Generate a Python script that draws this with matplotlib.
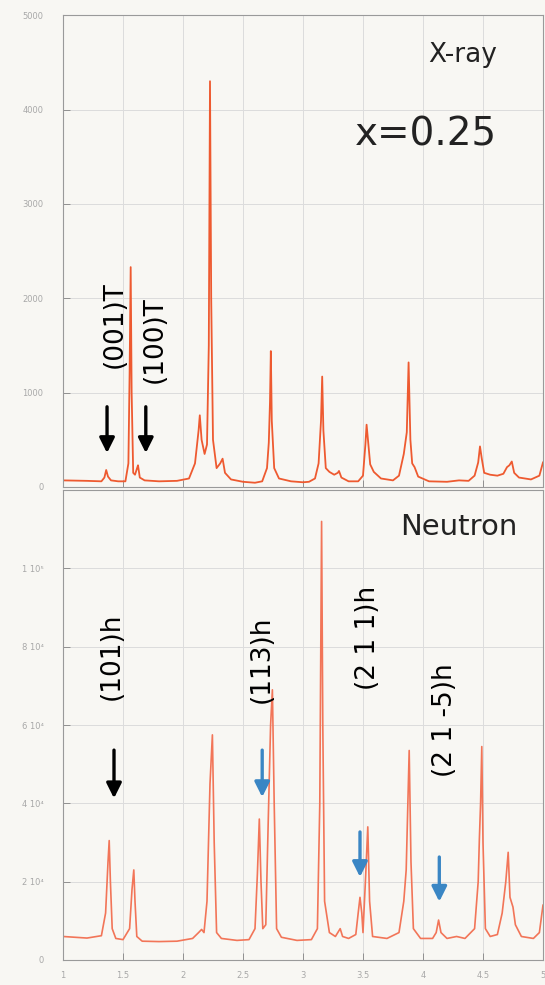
import matplotlib
matplotlib.use("Agg")
import matplotlib.pyplot as plt

plt.rcParams['font.family'] = ['DejaVu Sans']

# === DATA ====================================================================
# X-ray profile, intensity in counts
xray_x = [1.00, 1.20, 1.32, 1.345, 1.36, 1.375, 1.40, 1.46, 1.52, 1.545, 1.555,
          1.564, 1.572, 1.585, 1.60, 1.615, 1.625, 1.64, 1.68, 1.80, 1.95, 2.05,
          2.10, 2.13, 2.14, 2.155, 2.18, 2.20, 2.215, 2.225, 2.235, 2.25, 2.28,
          2.31, 2.33, 2.35, 2.40, 2.50, 2.60, 2.66, 2.70, 2.715, 2.725, 2.732,
          2.74, 2.76, 2.80, 2.90, 3.00, 3.05, 3.10, 3.13, 3.15, 3.16, 3.17, 3.19,
          3.22, 3.26, 3.29, 3.30, 3.32, 3.38, 3.46, 3.50, 3.52, 3.53, 3.545,
          3.56, 3.59, 3.65, 3.75, 3.80, 3.84, 3.865, 3.88, 3.895, 3.91, 3.93,
          3.96, 4.05, 4.20, 4.30, 4.38, 4.43, 4.46, 4.475, 4.49, 4.51, 4.56,
          4.62, 4.67, 4.70, 4.72, 4.74, 4.76, 4.80, 4.90, 4.97, 5.00]
xray_y = [70, 65, 60, 100, 180, 110, 70, 60, 60, 250, 1200,
          2330, 1000, 150, 130, 190, 230, 100, 70, 60, 65, 90,
          250, 600, 760, 500, 350, 450, 1500, 4300, 2000, 500, 200,
          250, 300, 150, 80, 55, 45, 60, 200, 470, 900, 1440,
          700, 200, 90, 60, 50, 55, 90, 250, 700, 1170, 600, 200,
          160, 130, 150, 170, 100, 60, 60, 120, 450, 660, 450,
          240, 160, 90, 70, 120, 350, 580, 1320, 500, 250, 210,
          110, 60, 55, 70, 65, 120, 260, 430, 300, 150, 130,
          120, 140, 210, 230, 270, 150, 100, 80, 120, 260]

# Neutron profile, intensity in counts
neut_x = [1.00, 1.20, 1.32, 1.355, 1.375, 1.385, 1.395, 1.41, 1.44, 1.50, 1.555,
          1.575, 1.59, 1.60, 1.615, 1.66, 1.80, 1.95, 2.08, 2.13, 2.155, 2.175,
          2.20, 2.225, 2.245, 2.26, 2.28, 2.32, 2.45, 2.55, 2.60, 2.62, 2.636,
          2.65, 2.665, 2.69, 2.71, 2.73, 2.745, 2.76, 2.78, 2.82, 2.95, 3.07,
          3.12, 3.14, 3.155, 3.165, 3.18, 3.22, 3.27, 3.30, 3.31, 3.33, 3.38,
          3.44, 3.46, 3.475, 3.49, 3.50, 3.52, 3.54, 3.555, 3.58, 3.70, 3.80,
          3.84, 3.86, 3.885, 3.90, 3.92, 3.98, 4.08, 4.11, 4.13, 4.15, 4.20,
          4.28, 4.35, 4.43, 4.46, 4.47, 4.48, 4.49, 4.50, 4.52, 4.56, 4.62,
          4.66, 4.69, 4.71, 4.725, 4.75, 4.77, 4.82, 4.92, 4.97, 5.00]
neut_y = [6000, 5600, 6200, 12000, 25000, 30500, 20000, 8000, 5500, 5200, 8000,
          18000, 23000, 15000, 6000, 4800, 4700, 4800, 5500, 7000, 7800, 7000,
          15000, 45000, 57500, 30000, 7000, 5500, 5000, 5200, 8000, 22000, 36000,
          20000, 8000, 9000, 35000, 60000, 69000, 40000, 8000, 5800, 5000, 5200,
          8000, 40000, 112000, 60000, 15000, 7000, 6000, 7500, 8000, 6000, 5500,
          6500, 12000, 16000, 12000, 7000, 20000, 34000, 15000, 6000, 5500, 7000,
          15000, 23000, 53500, 25000, 8000, 5500, 5500, 7000, 10200, 7000, 5500,
          6000, 5500, 8000, 20000, 31000, 40000, 54500, 30000, 8000, 6000, 6500,
          12000, 20000, 27500, 16000, 13500, 9000, 6000, 5500, 7000, 14000]

x_ticks = [1, 1.5, 2, 2.5, 3, 3.5, 4, 4.5, 5]
x_ticklabels = ["1", "1.5", "2", "2.5", "3", "3.5", "4", "4.5", "5"]
xray_ticks = [0, 1000, 2000, 3000, 4000, 5000]
xray_ticklabels = ["0", "1000", "2000", "3000", "4000", "5000"]
neut_ticks = [0, 20000, 40000, 60000, 80000, 100000]
neut_ticklabels = ["0", "2 10\u2074", "4 10\u2074", "6 10\u2074", "8 10\u2074", "1 10\u2075"]

# (label, x, y) for rotated peak labels
xray_labels = [("(001)T", 1.43, 1720), ("(100)T", 1.767, 1564)]
neut_labels = [("(101)h", 1.41, 77500), ("(113)h", 2.66, 76800),
               ("(2 1 1)h", 3.54, 82300), ("(2 1 -5)h", 4.18, 61200)]

# arrows: (x, y_tail, y_head, colour)
xray_arrows = [(1.367, 850, 360, "black"), (1.69, 850, 360, "black")]
neut_arrows = [(1.425, 53600, 41300, "black"), (2.66, 53600, 41600, "#3a86c4"),
               (3.475, 32700, 21200, "#3a86c4"), (4.136, 26300, 14900, "#3a86c4")]

# === FIGURE ==================================================================
bg = "#f8f7f3"
fig = plt.figure(figsize=(5.45, 9.85), dpi=100, facecolor=bg)
ax1 = fig.add_axes([0.1156, 0.5056, 0.8807, 0.479])
ax2 = fig.add_axes([0.1156, 0.0254, 0.8807, 0.477])

for ax in (ax1, ax2):
    ax.set_facecolor(bg)
    ax.set_xlim(1, 5)
    ax.set_xticks(x_ticks)
    ax.grid(True, color="#dcdcdc", lw=0.7)
    ax.set_axisbelow(True)
    ax.tick_params(direction="in", length=5, width=0.7, colors="#909090",
                   labelsize=6, labelcolor="#a8a8a8")
    for s in ax.spines.values():
        s.set_color("#9a9a9a")
        s.set_linewidth(0.8)

ax1.plot(xray_x, xray_y, color="#ee5a30", lw=1.3)
ax1.set_ylim(0, 5000)
ax1.set_yticks(xray_ticks)
ax1.set_yticklabels(xray_ticklabels)
ax1.set_xticklabels([])

ax2.plot(neut_x, neut_y, color="#f27558", lw=1.2)
ax2.set_ylim(0, 120000)
ax2.set_yticks(neut_ticks)
ax2.set_yticklabels(neut_ticklabels)
ax2.set_xticklabels(x_ticklabels)
ax2.tick_params(axis="x", pad=8)
ax1.tick_params(axis="y", pad=14)
ax2.tick_params(axis="y", pad=14)

# --- labels ---
ax1.text(4.33, 4574, "X-ray", fontsize=19, ha="center", va="center", color="#222222")
ax1.text(4.025, 3734, "x=0.25", fontsize=28, ha="center", va="center", color="#222222")
ax2.text(4.30, 110700, "Neutron", fontsize=21, ha="center", va="center", color="#222222")

for lab, x, y in xray_labels:
    ax1.text(x, y, lab, rotation=90, fontsize=19, ha="center", va="center", color="black")
for lab, x, y in neut_labels:
    ax2.text(x, y, lab, rotation=90, fontsize=19, ha="center", va="center", color="black")

for ax, arrows in ((ax1, xray_arrows), (ax2, neut_arrows)):
    for x, y0, y1, c in arrows:
        ax.annotate("", xy=(x, y1), xytext=(x, y0),
                    arrowprops=dict(arrowstyle="-|>,head_width=0.45,head_length=0.9",
                                    color=c, lw=2.4, shrinkA=0, shrinkB=0))

fig.savefig("out.png", dpi=100, facecolor=bg)
